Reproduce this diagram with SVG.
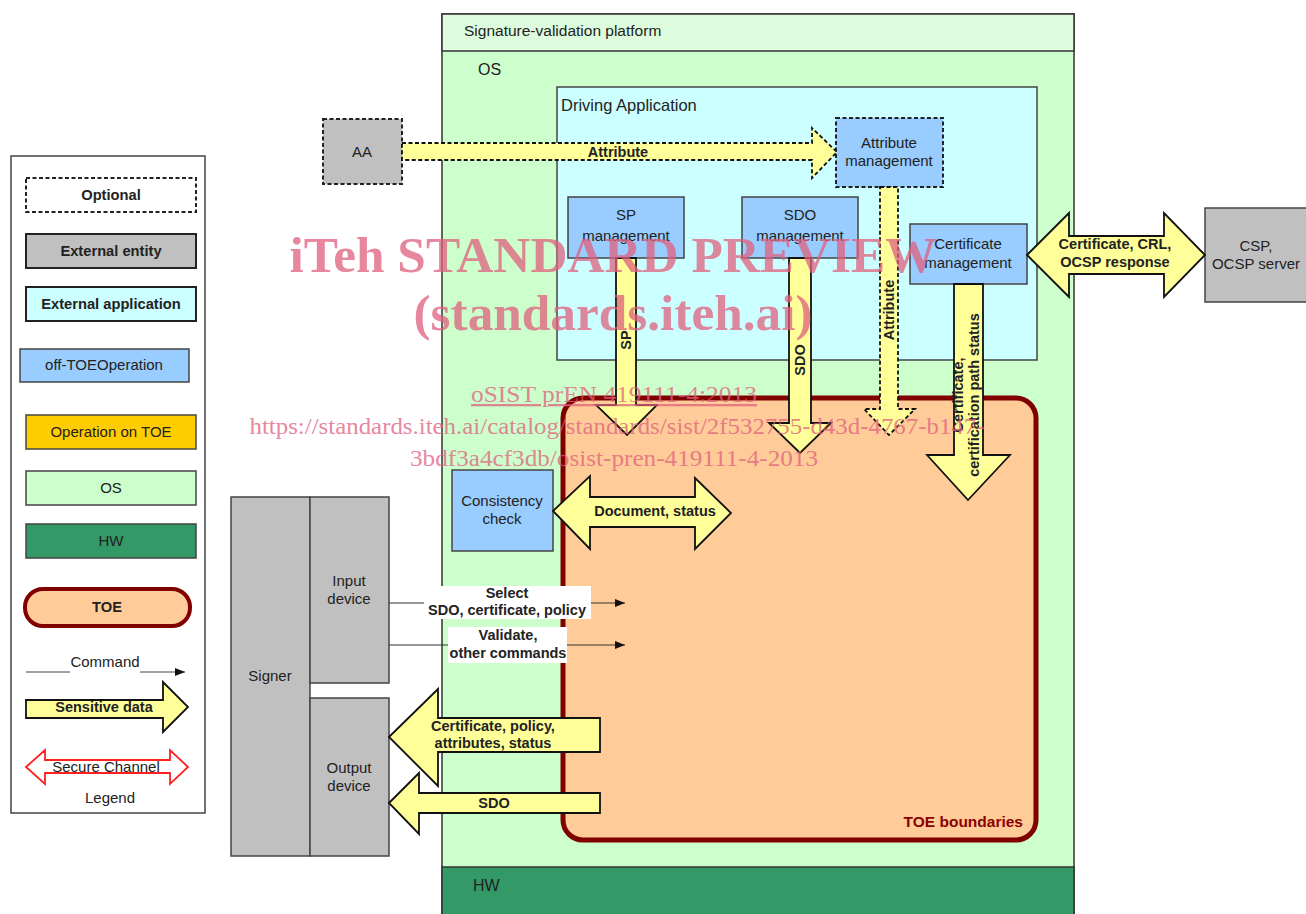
<svg xmlns="http://www.w3.org/2000/svg" width="1306" height="914" viewBox="0 0 1306 914">
<style>
text{font-family:"Liberation Sans",Arial,sans-serif;fill:#222}
.n{font-size:15px}
.b{font-size:14.5px;font-weight:bold}
.lb{font-size:14.7px;font-weight:bold}
.box{stroke:#444;stroke-width:1.5}
.arr{fill:#ffff99;stroke:#111;stroke-width:1.8;stroke-linejoin:miter}
.dash{stroke-dasharray:4,2.5}
.wm{font-family:"Liberation Serif","Times New Roman",serif;fill:#e0607e;opacity:0.75}
</style>
<defs>
<marker id="ah" markerWidth="10" markerHeight="8" refX="10" refY="4" orient="auto" markerUnits="userSpaceOnUse">
<path d="M0,0 L10,4 L0,8 Z" fill="#111"/>
</marker>
</defs>
<rect width="1306" height="914" fill="#fff"/>

<!-- Legend -->
<g id="legend">
<rect x="11" y="156" width="194" height="657" fill="#fff" stroke="#444" stroke-width="1.5"/>
<rect x="26" y="178" width="170" height="34" fill="#fff" stroke="#222" stroke-width="2" class="dash"/>
<text x="111" y="200" class="lb" text-anchor="middle">Optional</text>
<rect x="26" y="234" width="170" height="34" fill="#c0c0c0" stroke="#222" stroke-width="2"/>
<text x="111" y="256" class="lb" text-anchor="middle">External entity</text>
<rect x="26" y="287" width="170" height="34" fill="#ccffff" stroke="#222" stroke-width="2"/>
<text x="111" y="309" class="lb" text-anchor="middle">External application</text>
<rect x="20" y="349" width="169" height="33" fill="#99ccff" class="box"/>
<text x="104" y="370" class="n" text-anchor="middle">off-TOEOperation</text>
<rect x="26" y="415" width="170" height="34" fill="#ffcc00" class="box"/>
<text x="111" y="437" class="n" text-anchor="middle">Operation on TOE</text>
<rect x="26" y="471" width="170" height="34" fill="#ccffcc" class="box"/>
<text x="111" y="493" class="n" text-anchor="middle">OS</text>
<rect x="26" y="524" width="170" height="34" fill="#339966" class="box"/>
<text x="111" y="546" class="n" text-anchor="middle">HW</text>
<rect x="25" y="589" width="165" height="37" rx="18" fill="#ffcc99" stroke="#800000" stroke-width="4"/>
<text x="107" y="612" class="lb" text-anchor="middle">TOE</text>
<line x1="26" y1="672" x2="70" y2="672" stroke="#444" stroke-width="1.2"/>
<line x1="140" y1="672" x2="185" y2="672" stroke="#444" stroke-width="1.2" marker-end="url(#ah)"/>
<text x="105" y="667" class="n" text-anchor="middle">Command</text>
<polygon class="arr" points="26,700 163,700 163,682 188,707 163,732 163,718 26,718"/>
<text x="104" y="712" class="b" text-anchor="middle">Sensitive data</text>
<polygon points="26,767 45,750 45,760 170,760 170,750 188,767 170,784 170,773 45,773 45,784" fill="#fff" stroke="#ff2020" stroke-width="1.8"/>
<text x="106" y="772" class="n" text-anchor="middle">Secure Channel</text>
<text x="110" y="803" class="n" text-anchor="middle">Legend</text>
</g>

<!-- Platform -->
<g id="platform">
<rect x="442" y="14" width="632" height="905" fill="#ccffcc" stroke="#333" stroke-width="1.5"/>
<rect x="442" y="14" width="632" height="37" fill="#ddfbdd" stroke="#333" stroke-width="1.5"/>
<text x="464" y="36" font-size="15.5">Signature-validation platform</text>
<text x="478" y="75" font-size="16">OS</text>
</g>
<g id="hw">
<rect x="442" y="867" width="632" height="52" fill="#339966" stroke="#333" stroke-width="1.5"/>
<text x="473" y="891" font-size="16">HW</text>
</g>

<g id="driving-app">
<rect x="557" y="87" width="480" height="273" fill="#ccffff" class="box"/>
<text x="561" y="111" font-size="16.5">Driving Application</text>
</g>

<g id="toe">
<rect x="563" y="398" width="473" height="442" rx="20" fill="#ffcc99" stroke="#800000" stroke-width="5"/>
<text x="1023" y="827" font-size="15.5" font-weight="bold" text-anchor="end" style="fill:#8b0000">TOE boundaries</text>
</g>

<g id="aa">
<rect x="323" y="119" width="79" height="65" fill="#c0c0c0" stroke="#222" stroke-width="2" class="dash"/>
<text x="362" y="157" class="n" text-anchor="middle">AA</text>
</g>

<g id="attr-mgmt">
<rect x="836" y="118" width="107" height="69" fill="#99ccff" stroke="#222" stroke-width="2" class="dash"/>
<text x="889" y="148" class="n" text-anchor="middle">Attribute</text>
<text x="889" y="166" class="n" text-anchor="middle">management</text>
</g>

<g id="sp-mgmt">
<rect x="568" y="197" width="116" height="61" fill="#99ccff" class="box"/>
<text x="626" y="220" class="n" text-anchor="middle">SP</text>
<text x="626" y="241" class="n" text-anchor="middle">management</text>
</g>

<g id="sdo-mgmt">
<rect x="742" y="197" width="116" height="61" fill="#99ccff" class="box"/>
<text x="800" y="220" class="n" text-anchor="middle">SDO</text>
<text x="800" y="241" class="n" text-anchor="middle">management</text>
</g>

<g id="cert-mgmt">
<rect x="910" y="224" width="117" height="60" fill="#99ccff" class="box"/>
<text x="968" y="249" class="n" text-anchor="middle">Certificate</text>
<text x="968" y="268" class="n" text-anchor="middle">management</text>
</g>

<g id="csp">
<rect x="1205" y="208" width="105" height="94" fill="#c0c0c0" class="box"/>
<text x="1256" y="251" class="n" text-anchor="middle">CSP,</text>
<text x="1256" y="269" class="n" text-anchor="middle">OCSP server</text>
</g>

<g id="consistency">
<rect x="452" y="470" width="101" height="81" fill="#99ccff" class="box"/>
<text x="502" y="506" class="n" text-anchor="middle">Consistency</text>
<text x="502" y="524" class="n" text-anchor="middle">check</text>
</g>

<g id="signer">
<rect x="231" y="497" width="79" height="359" fill="#c0c0c0" class="box"/>
<text x="270" y="681" class="n" text-anchor="middle">Signer</text>
</g>
<g id="input-device">
<rect x="310" y="497" width="79" height="186" fill="#c0c0c0" class="box"/>
<text x="349" y="586" class="n" text-anchor="middle">Input</text>
<text x="349" y="604" class="n" text-anchor="middle">device</text>
</g>
<g id="output-device">
<rect x="310" y="698" width="79" height="158" fill="#c0c0c0" class="box"/>
<text x="349" y="773" class="n" text-anchor="middle">Output</text>
<text x="349" y="791" class="n" text-anchor="middle">device</text>
</g>

<!-- Connectors -->
<g id="connectors">
<polygon class="arr dash" points="402,143 812,143 812,128 837,152 812,178 812,160 402,160"/>
<text x="618" y="157" class="b" text-anchor="middle">Attribute</text>

<polygon class="arr" points="616,258 636,258 636,405 657,405 627,435 596,405 616,405"/>
<text transform="translate(631,340) rotate(-90)" class="b" text-anchor="middle">SP</text>

<polygon class="arr" points="789,258 811,258 811,423 831,423 800,453 769,423 789,423"/>
<text transform="translate(805,360) rotate(-90)" class="b" text-anchor="middle">SDO</text>

<polygon class="arr dash" points="880,187 898,187 898,409 915,409 889,435 864,409 880,409"/>
<text transform="translate(894,310) rotate(-90)" class="b" text-anchor="middle">Attribute</text>

<polygon class="arr" points="954,284 983,284 983,455 1010,455 968,500 927,455 954,455"/>
<text transform="translate(963,395) rotate(-90)" class="b" text-anchor="middle">Certificate,</text>
<text transform="translate(979,395) rotate(-90)" class="b" text-anchor="middle">certification path status</text>

<polygon class="arr" points="1027,255 1069,213 1069,236 1164,236 1164,213 1205,255 1164,297 1164,274 1069,274 1069,297"/>
<text x="1115" y="249" class="b" text-anchor="middle">Certificate, CRL,</text>
<text x="1115" y="267" class="b" text-anchor="middle">OCSP response</text>

<polygon class="arr" points="553,511 590,476 590,497 695,497 695,478 731,513 695,549 695,527 590,527 590,549"/>
<text x="655" y="516" class="b" text-anchor="middle">Document, status</text>

<line x1="389" y1="603" x2="625" y2="603" stroke="#333" stroke-width="1.2" marker-end="url(#ah)"/>
<rect x="424" y="586" width="167" height="33" fill="#fff"/>
<text x="507" y="598" class="b" text-anchor="middle">Select</text>
<text x="507" y="615" class="b" text-anchor="middle">SDO, certificate, policy</text>

<line x1="389" y1="645" x2="625" y2="645" stroke="#333" stroke-width="1.2" marker-end="url(#ah)"/>
<rect x="448" y="627" width="119" height="36" fill="#fff"/>
<text x="508" y="640" class="b" text-anchor="middle">Validate,</text>
<text x="508" y="658" class="b" text-anchor="middle">other commands</text>

<polygon class="arr" points="389,737 438,689 438,718 600,718 600,752 438,752 438,786"/>
<text x="493" y="731" class="b" text-anchor="middle">Certificate, policy,</text>
<text x="493" y="748" class="b" text-anchor="middle">attributes, status</text>

<polygon class="arr" points="389,803 419,773 419,793 600,793 600,813 419,813 419,834"/>
<text x="494" y="808" class="b" text-anchor="middle">SDO</text>
</g>

<!-- Watermark -->
<g id="watermark">
<text x="613" y="272" class="wm" font-size="50" font-weight="bold" text-anchor="middle" textLength="647" lengthAdjust="spacingAndGlyphs">iTeh STANDARD PREVIEW</text>
<text x="613" y="330" class="wm" font-size="50" font-weight="bold" text-anchor="middle" textLength="399" lengthAdjust="spacingAndGlyphs">(standards.iteh.ai)</text>
<text x="614" y="402" class="wm" font-size="23" text-anchor="middle" text-decoration="underline" textLength="286" lengthAdjust="spacingAndGlyphs">oSIST prEN 419111-4:2013</text>
<text x="617" y="434" class="wm" font-size="23" text-anchor="middle" textLength="735" lengthAdjust="spacingAndGlyphs">https://standards.iteh.ai/catalog/standards/sist/2f532755-d43d-4767-b147-</text>
<text x="614" y="466" class="wm" font-size="23" text-anchor="middle" textLength="408" lengthAdjust="spacingAndGlyphs">3bdf3a4cf3db/osist-pren-419111-4-2013</text>
</g>
</svg>
